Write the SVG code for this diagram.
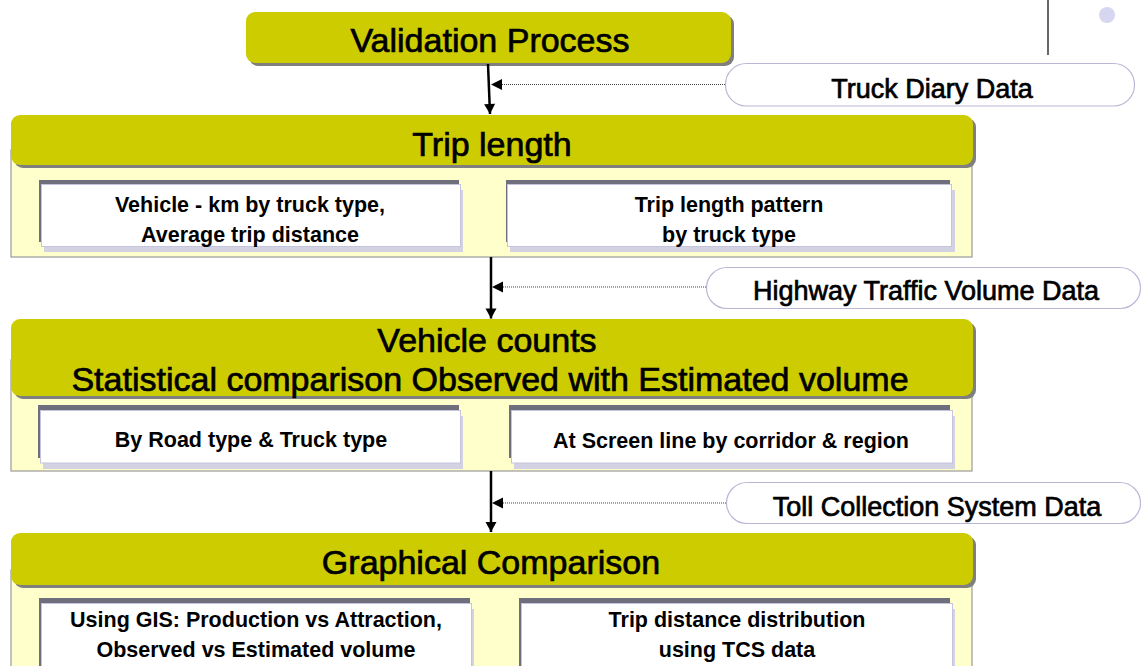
<svg xmlns="http://www.w3.org/2000/svg" width="1141" height="666" viewBox="0 0 1141 666">
<style>
.hdr{fill:#cccc00}
.hsh{fill:#7f7f7f}
.body{fill:#ffffcc;stroke:#9a9a9a;stroke-width:1.2}
.dk{fill:#6e6e7c}
.lv{fill:#d2d2e2}
.wb{fill:#ffffff;stroke:#c4c4dc;stroke-width:1}
.pill{fill:#ffffff;stroke:#b8b8d6;stroke-width:1.2}
.t{font-family:"Liberation Sans",Arial,sans-serif;font-size:34px;fill:#000;stroke:#000;stroke-width:0.7;text-anchor:middle}
.p{font-family:"Liberation Sans",Arial,sans-serif;font-size:27px;fill:#000;stroke:#000;stroke-width:0.7;text-anchor:middle}
.s{font-family:"Liberation Sans",Arial,sans-serif;font-size:21.5px;font-weight:bold;fill:#000;text-anchor:middle}
.main{stroke:#000;stroke-width:2.5;fill:none}
.dot{stroke:#444;stroke-width:1;stroke-dasharray:1 1;fill:none}
.dh{fill:#000;stroke:none}
</style>
<defs>
<marker id="ah" markerUnits="userSpaceOnUse" markerWidth="14" markerHeight="14" refX="11" refY="6" orient="auto" overflow="visible">
<path d="M1,0.5 L11,6 L1,11.5 z" fill="#000"/>
</marker>
</defs>

<g id="decor">
<line x1="1048" y1="0" x2="1048" y2="55" stroke="#000" stroke-width="1.2"/>
<circle cx="1107" cy="15" r="8" fill="#d6d6f0"/>
</g>

<g id="validation">
<rect class="hsh" x="249" y="15" width="485" height="51" rx="9"/>
<rect class="hdr" x="246" y="12" width="485" height="51" rx="9"/>
<text class="t" x="490" y="52">Validation Process</text>
</g>

<g id="truck-diary">
<rect class="pill" x="725.5" y="63.5" width="409" height="42.5" rx="21"/>
<text class="p" x="932" y="98">Truck Diary Data</text>
</g>

<g id="trip-length">
<rect class="body" x="11" y="150" width="961" height="107"/>
<rect class="hsh" x="14" y="118" width="962" height="50" rx="9"/>
<rect class="hdr" x="11" y="115" width="962" height="50" rx="9"/>
<text class="t" x="492" y="156">Trip length</text>
<g id="trip-a">
<rect class="lv" x="44" y="190" width="419" height="62"/>
<rect class="dk" x="39" y="180" width="420" height="62"/>
<rect class="wb" x="41.5" y="184.5" width="419" height="62"/>
<text class="s" x="250" y="212">Vehicle - km by truck type,</text>
<text class="s" x="250" y="242">Average trip distance</text>
</g>
<g id="trip-b">
<rect class="lv" x="510" y="190" width="445" height="62"/>
<rect class="dk" x="506" y="180" width="444" height="62"/>
<rect class="wb" x="507.5" y="184.5" width="444" height="62"/>
<text class="s" x="729" y="212">Trip length pattern</text>
<text class="s" x="729" y="242">by truck type</text>
</g>
</g>

<g id="highway">
<rect class="pill" x="706.5" y="267.5" width="434" height="41" rx="20.5"/>
<text class="p" x="926" y="300">Highway Traffic Volume Data</text>
</g>

<g id="vehicle-counts">
<rect class="body" x="11" y="360" width="961" height="111"/>
<rect class="hsh" x="14" y="322" width="962" height="77" rx="9"/>
<rect class="hdr" x="11" y="319" width="962" height="77" rx="9"/>
<text class="t" x="487" y="352">Vehicle counts</text>
<text class="t" x="490" y="391">Statistical comparison Observed with Estimated volume</text>
<g id="vc-a">
<rect class="lv" x="43" y="416" width="420" height="53"/>
<rect class="dk" x="38" y="405" width="421" height="53"/>
<rect class="wb" x="40.5" y="410.5" width="420" height="52.5"/>
<text class="s" x="251" y="447">By Road type &amp; Truck type</text>
</g>
<g id="vc-b">
<rect class="lv" x="514" y="416" width="441" height="53"/>
<rect class="dk" x="509" y="405" width="441" height="53"/>
<rect class="wb" x="511.5" y="410.5" width="441" height="52.5"/>
<text class="s" x="731" y="448">At Screen line by corridor &amp; region</text>
</g>
</g>

<g id="toll">
<rect class="pill" x="726.5" y="482.5" width="414" height="41" rx="20.5"/>
<text class="p" x="937" y="516">Toll Collection System Data</text>
</g>

<g id="graphical">
<rect class="body" x="11" y="570" width="961" height="110"/>
<rect class="hsh" x="14" y="536" width="962" height="52" rx="9"/>
<rect class="hdr" x="11" y="533" width="962" height="52" rx="9"/>
<text class="t" x="491" y="574">Graphical Comparison</text>
<g id="gc-a">
<rect class="lv" x="44" y="609" width="430" height="70"/>
<rect class="dk" x="39" y="598" width="431" height="70"/>
<rect class="wb" x="41.5" y="603.5" width="430" height="70"/>
<text class="s" x="256" y="627">Using GIS: Production vs Attraction,</text>
<text class="s" x="256" y="657">Observed vs Estimated volume</text>
</g>
<g id="gc-b">
<rect class="lv" x="524" y="609" width="431" height="70"/>
<rect class="dk" x="519" y="598" width="431" height="70"/>
<rect class="wb" x="521.5" y="603.5" width="431" height="70"/>
<text class="s" x="737" y="627">Trip distance distribution</text>
<text class="s" x="737" y="657">using TCS data</text>
</g>
</g>

<g id="connectors">
<line class="main" x1="488" y1="64" x2="490" y2="114" marker-end="url(#ah)"/>
<line class="dot" x1="725" y1="84.5" x2="500" y2="84.5"/>
<path class="dh" d="M491,84.5 L502,79 L502,90 z"/>
<line class="main" x1="491" y1="257" x2="491" y2="318.5" marker-end="url(#ah)"/>
<line class="dot" x1="706" y1="287" x2="500" y2="287"/>
<path class="dh" d="M492,287 L503,281.5 L503,292.5 z"/>
<line class="main" x1="491" y1="471" x2="491" y2="532" marker-end="url(#ah)"/>
<line class="dot" x1="726" y1="503" x2="500" y2="503"/>
<path class="dh" d="M492,503 L503,497.5 L503,508.5 z"/>
</g>
</svg>
